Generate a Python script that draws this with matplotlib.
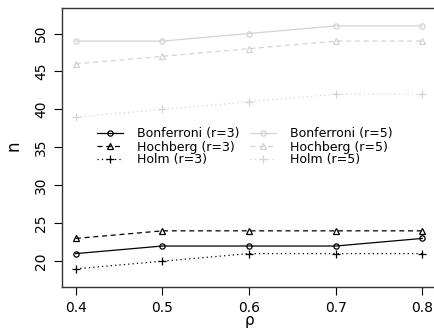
import matplotlib
matplotlib.use("Agg")
import matplotlib.pyplot as plt

plt.rcParams['font.family'] = ['DejaVu Sans']

# data
rho = [0.4, 0.5, 0.6, 0.7, 0.8]
bonf_r3 = [21, 22, 22, 22, 23]
hoch_r3 = [23, 24, 24, 24, 24]
holm_r3 = [19, 20, 21, 21, 21]
bonf_r5 = [49, 49, 50, 51, 51]
hoch_r5 = [46, 47, 48, 49, 49]
holm_r5 = [39, 40, 41, 42, 42]
yticks = [20, 25, 30, 35, 40, 45, 50]
xticks = [0.4, 0.5, 0.6, 0.7, 0.8]

light = '#d3d3d3'

fig = plt.figure(figsize=(4.34, 3.29), dpi=100)
ax = fig.add_axes([62 / 434, 42.3 / 329, 374 / 434, 278.7 / 329])

# r=3 in black, r=5 in light grey
ax.plot(rho, bonf_r3, color='black', ls='-', lw=0.9, marker='o', ms=3.8,
        mfc='none', mew=0.9, label='Bonferroni (r=3)')
ax.plot(rho, hoch_r3, color='black', ls=(0, (4, 3)), lw=0.9, marker='^', ms=4.6,
        mfc='none', mew=0.9, label='Hochberg (r=3)')
ax.plot(rho, holm_r3, color='black', ls=(0, (1, 2.5)), lw=0.9, marker='+', ms=6,
        mew=0.9, label='Holm (r=3)')
ax.plot(rho, bonf_r5, color=light, ls='-', lw=0.9, marker='o', ms=3.8,
        mfc='none', mew=0.9, label='Bonferroni (r=5)')
ax.plot(rho, hoch_r5, color=light, ls=(0, (4, 3)), lw=0.9, marker='^', ms=4.6,
        mfc='none', mew=0.9, label='Hochberg (r=5)')
ax.plot(rho, holm_r5, color=light, ls=(0, (1, 2.5)), lw=0.9, marker='+', ms=6,
        mew=0.9, label='Holm (r=5)')

ax.set_xlim(0.384, 0.816)
ax.set_ylim(16.64, 53.36)
ax.set_xticks(xticks)
ax.set_xticklabels([str(v) for v in xticks], fontsize=10)
ax.set_yticks(yticks)
ax.set_yticklabels([str(v) for v in yticks], fontsize=10, rotation=90, va='center')
ax.tick_params(direction='out', length=6, width=0.8, pad=4)

for s in ax.spines.values():
    s.set_linewidth(1.0)
    s.set_color('#333333')

# axis labels placed in figure pixels
fig.text(250 / 434, 0.5 / 329, 'ρ', fontsize=11, ha='center', va='bottom')
fig.text(14 / 434, 1 - 146 / 329, 'n', fontsize=12, ha='center', va='center',
         rotation=90)

ax.legend(ncol=2, frameon=False, fontsize=9, loc='upper left',
          bbox_to_anchor=(97 / 434, 1 - 127.5 / 329), bbox_transform=fig.transFigure,
          handlelength=2.1, handletextpad=1.1, columnspacing=0.8,
          labelspacing=0.0, borderpad=0, borderaxespad=0)

fig.savefig('out.png', dpi=100)
